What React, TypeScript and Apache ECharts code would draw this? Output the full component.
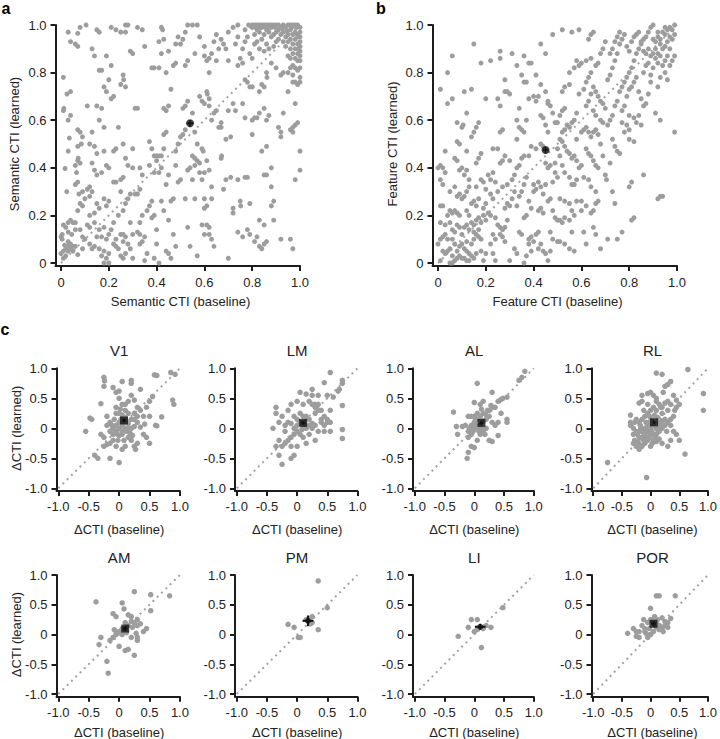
import React, { useEffect, useRef } from "react";
import * as echarts from "echarts";

// ---------- tick labels ----------
const unitTicks = [0, 0.2, 0.4, 0.6, 0.8, 1.0];
const deltaTicks = [-1, -0.5, 0, 0.5, 1];

// ---------- panel a : Semantic CTI (baseline vs learned) ----------
const semanticPoints: number[][] = [
  [0.01,0.78],[0.01,0.64],[0.012,0.65],[0.025,0.71],[0.04,0.72],[0.03,0.6],[0.04,0.62],[0.03,0.47],[0.035,0.525],[0.017,0.397],
  [0.024,0.3],[0.06,0.41],[0.07,0.43],[0.072,0.44],[0.065,0.38],[0.08,0.42],[0.06,0.33],[0.07,0.34],[0.075,0.29],[0.09,0.3],
  [0.08,0.25],[0.09,0.24],[0.07,0.22],[0.1,0.27],[0.07,0.56],[0.08,0.55],[0.09,0.53],[0.085,0.5],[0.07,0.49],
  [0.0,0.11],[0.005,0.1],[0.0,0.04],[0.01,0.05],[0.02,0.06],[0.03,0.07],[0.04,0.06],[0.03,0.05],[0.04,0.08],[0.05,0.07],
  [0.06,0.07],[0.05,0.05],[0.02,0.03],[0.01,0.02],[0.03,0.09],[0.02,0.15],[0.03,0.17],[0.01,0.16],[0.04,0.18],[0.05,0.17],
  [0.06,0.17],[0.03,0.13],[0.045,0.12],[0.005,0.12],[0.06,0.14],[0.08,0.14],[0.09,0.11],[0.07,0.035],[0.1,0.1],[0.09,0.06],
  [0.015,0.075],[0.03,0.97],[0.08,0.99],[0.105,1.0],[0.07,0.965],[0.04,0.93],[0.06,0.92],[0.07,0.91],
  [0.11,0.66],[0.13,0.9],[0.14,0.87],[0.15,0.66],[0.16,0.6],[0.13,0.55],[0.12,0.5],[0.14,0.49],[0.15,0.46],[0.13,0.42],
  [0.12,0.32],[0.13,0.3],[0.11,0.31],[0.12,0.28],[0.14,0.39],[0.15,0.37],[0.17,0.38],[0.15,0.25],[0.16,0.23],[0.14,0.21],
  [0.12,0.15],[0.14,0.17],[0.11,0.16],[0.16,0.14],[0.12,0.08],[0.13,0.06],[0.15,0.11],[0.17,0.11],[0.16,0.06],[0.18,0.05],
  [0.14,0.07],[0.17,0.03],[0.19,0.02],[0.2,0.04],[0.18,0.0],[0.2,0.0],[0.19,0.1],[0.2,0.12],[0.18,0.15],[0.19,0.24],
  [0.18,0.27],[0.2,0.26],[0.18,0.47],[0.19,0.41],[0.2,0.4],[0.18,0.57],[0.17,0.65],[0.18,0.74],[0.17,0.81],[0.19,0.72],
  [0.2,0.77],[0.19,0.87],[0.16,0.81],[0.15,0.98],[0.16,0.97],[0.12,0.2],
  [0.21,0.69],[0.21,0.83],[0.22,0.7],[0.22,0.47],[0.23,0.48],[0.24,0.57],[0.22,0.34],[0.23,0.34],[0.25,0.3],[0.26,0.36],
  [0.25,0.35],[0.26,0.22],[0.24,0.2],[0.22,0.17],[0.21,0.14],[0.23,0.1],[0.22,0.08],[0.24,0.06],[0.23,0.07],[0.25,0.12],
  [0.26,0.12],[0.27,0.11],[0.26,0.09],[0.28,0.08],[0.25,0.03],[0.26,0.02],[0.27,0.04],[0.28,0.27],[0.27,0.25],[0.29,0.29],
  [0.26,0.5],[0.27,0.44],[0.28,0.41],[0.3,0.4],[0.25,0.75],[0.27,0.74],[0.26,0.79],[0.262,0.77],[0.21,0.99],[0.23,0.98],
  [0.25,0.97],[0.27,0.97],[0.27,1.0],[0.28,1.0],[0.29,0.89],[0.3,0.88],[0.3,0.48],[0.29,0.17],[0.3,0.12],[0.29,0.06],[0.3,0.02],
  [0.31,0.65],[0.32,0.65],[0.32,0.99],[0.34,0.98],[0.35,0.91],[0.33,0.4],[0.34,0.37],[0.32,0.29],[0.31,0.29],[0.33,0.31],
  [0.34,0.2],[0.33,0.17],[0.32,0.13],[0.33,0.12],[0.35,0.11],[0.34,0.09],[0.33,0.08],[0.36,0.04],[0.35,0.01],[0.37,0.24],
  [0.36,0.22],[0.38,0.26],[0.38,0.19],[0.39,0.2],[0.37,0.41],[0.38,0.48],[0.39,0.45],[0.4,0.43],[0.39,0.38],[0.38,0.82],
  [0.39,0.82],[0.37,0.51],[0.4,0.14],[0.4,0.08],[0.39,0.02],[0.41,0.0],[0.4,0.45],
  [0.41,0.45],[0.42,0.45],[0.41,0.38],[0.42,0.4],[0.43,0.48],[0.44,0.33],[0.45,0.37],[0.43,0.65],[0.44,0.64],[0.45,0.66],
  [0.43,0.54],[0.44,0.55],[0.46,0.73],[0.41,0.82],[0.42,0.88],[0.43,0.94],[0.44,0.8],[0.45,0.89],[0.47,0.83],[0.48,0.84],
  [0.46,0.26],[0.45,0.18],[0.47,0.27],[0.47,0.12],[0.44,0.05],[0.45,0.04],[0.46,0.02],[0.48,0.07],[0.42,0.26],[0.43,0.22],
  [0.48,0.47],[0.49,0.5],[0.5,0.53],[0.49,0.34],[0.5,0.35],[0.48,0.41],[0.42,0.99],[0.425,0.98],[0.41,0.93],[0.48,0.92],
  [0.5,0.92],[0.49,0.95],
  [0.51,0.54],[0.52,0.56],[0.53,0.39],[0.54,0.4],[0.55,0.45],[0.56,0.44],[0.55,0.35],[0.56,0.41],[0.57,0.43],[0.58,0.42],
  [0.58,0.38],[0.59,0.35],[0.57,0.5],[0.56,0.55],[0.59,0.48],[0.595,0.47],[0.6,0.38],[0.52,0.27],[0.56,0.27],[0.53,0.15],
  [0.54,0.07],[0.57,0.03],[0.59,0.16],[0.6,0.12],[0.6,0.27],[0.6,0.23],[0.51,0.65],[0.52,0.66],[0.53,0.68],[0.55,0.63],
  [0.58,0.7],[0.59,0.68],[0.6,0.67],[0.52,0.83],[0.53,0.85],[0.56,0.88],[0.51,0.94],[0.52,0.97],[0.53,1.0],[0.55,1.0],
  [0.57,1.0],[0.58,0.95],[0.6,0.91],[0.6,0.87],
  [0.61,0.72],[0.612,0.71],[0.62,0.69],[0.62,0.66],[0.63,0.6],[0.64,0.63],[0.65,0.64],[0.67,0.59],[0.66,0.57],[0.67,0.57],
  [0.61,0.43],[0.62,0.39],[0.63,0.32],[0.63,0.27],[0.61,0.24],[0.61,0.16],[0.62,0.15],[0.62,0.12],[0.63,0.1],[0.64,0.07],
  [0.67,0.44],[0.672,0.45],[0.68,0.31],[0.69,0.35],[0.62,0.8],[0.61,0.85],[0.62,0.86],[0.63,0.88],[0.65,0.85],[0.66,0.9],
  [0.67,0.94],[0.68,0.92],[0.69,0.9],[0.7,0.97],[0.64,0.93],[0.65,0.96],[0.7,0.85],[0.7,0.64],[0.69,0.52],[0.71,0.53],
  [0.71,0.36],[0.72,0.23],[0.72,0.21],[0.7,0.02],
  [0.72,0.67],[0.73,0.64],[0.74,0.83],[0.75,0.86],[0.76,0.84],[0.77,0.77],[0.78,0.76],[0.79,0.74],[0.8,0.74],[0.76,0.67],
  [0.77,0.61],[0.74,0.13],[0.75,0.26],[0.752,0.24],[0.76,0.11],[0.77,0.36],[0.78,0.36],[0.74,0.35],[0.78,0.14],[0.79,0.25],
  [0.79,0.12],[0.8,0.54],[0.8,0.6],[0.73,0.92],[0.74,0.95],[0.76,0.9],[0.77,0.93],[0.78,0.95],[0.79,0.88],[0.8,0.86],
  [0.72,0.99],[0.74,1.0],[0.77,0.98],
  [0.8,1.0],[0.81,1.0],[0.82,1.0],[0.83,1.0],[0.84,1.0],[0.85,1.0],[0.86,1.0],[0.87,1.0],[0.88,1.0],[0.89,1.0],
  [0.9,1.0],[0.8,0.99],[0.82,0.98],[0.84,0.99],[0.86,0.98],[0.88,0.99],[0.81,0.96],[0.83,0.97],[0.85,0.96],[0.87,0.97],
  [0.89,0.96],[0.82,0.93],[0.84,0.94],[0.86,0.92],[0.88,0.95],[0.9,0.93],[0.83,0.9],[0.85,0.89],[0.87,0.9],[0.89,0.91],
  [0.81,0.92],[0.785,1.0],[0.795,0.995],[0.815,0.99],[0.835,0.99],[0.855,0.99],[0.875,0.99],[0.895,0.99],
  [0.81,0.61],[0.82,0.61],[0.83,0.72],[0.84,0.75],[0.85,0.74],[0.86,0.8],[0.862,0.78],[0.83,0.63],[0.85,0.65],[0.86,0.6],
  [0.87,0.62],[0.84,0.47],[0.86,0.49],[0.85,0.37],[0.86,0.37],[0.88,0.4],[0.88,0.32],[0.89,0.26],[0.88,0.24],[0.83,0.18],
  [0.85,0.16],[0.82,0.11],[0.83,0.07],[0.84,0.06],[0.85,0.08],[0.81,0.09],[0.86,0.09],[0.89,0.18],[0.88,0.84],[0.9,0.82],
  [0.92,0.79],[0.93,0.8],[0.91,0.57],[0.92,0.55],[0.93,0.63],[0.92,0.53],[0.95,0.72],[0.96,0.56],[0.97,0.57],[0.97,0.55],
  [0.98,0.58],[0.99,0.59],[0.98,0.67],[0.92,0.1],[0.96,0.1],[0.97,0.06],[0.98,0.35],[1.0,0.39],[1.0,0.47],[0.97,0.76],
  [0.98,0.76],[0.99,0.75],[1.0,0.76],[0.96,0.82],[0.97,0.83],[0.98,0.82],[0.99,0.81],[1.0,0.78],[0.97,0.79],[0.95,0.8],
  [1.0,0.85],[1.0,0.87],[1.0,0.89],[1.0,0.91],[1.0,0.93],[1.0,0.95],[1.0,0.97],[1.0,0.99],[0.99,0.88],[0.99,0.92],
  [0.99,0.95],[0.98,0.9],[0.98,0.94],[0.98,0.97],[0.97,0.88],[0.97,0.92],[0.97,0.96],[0.96,0.9],[0.96,0.94],[0.96,0.98],
  [0.95,0.93],[0.95,0.96],[0.94,0.91],[0.94,0.95],[0.93,0.97],[0.93,0.93],[0.92,0.96],[0.91,0.98],[0.92,0.99],[0.94,0.99],
  [0.95,1.0],[0.97,1.0],[0.99,1.0],[0.9,0.97],[0.91,0.94],[0.95,0.87],[0.99,0.85],[0.98,0.86],[0.96,0.86],[1.0,0.82],
  [0.99,0.96],[0.98,1.0],[0.96,1.0],[0.93,1.0],[0.91,1.0],[0.985,0.99],[0.965,0.99],[0.945,0.975],[0.925,0.985],[0.995,0.9]
];
const semanticMean = [0.54, 0.587, 0.014, 0.014];

// ---------- panel b : Feature CTI (baseline vs learned) ----------
const featurePoints: number[][] = [
  [0.0,0.4],[0.01,0.41],[0.02,0.4],[0.01,0.35],[0.02,0.33],[0.03,0.38],[0.01,0.24],[0.02,0.24],[0.01,0.17],[0.03,0.16],
  [0.02,0.11],[0.01,0.1],[0.0,0.08],[0.03,0.12],[0.04,0.1],[0.02,0.05],[0.03,0.04],[0.04,0.05],[0.05,0.06],[0.01,0.01],
  [0.05,0.0],[0.06,0.0],[0.07,0.01],[0.08,0.02],[0.06,0.03],[0.04,0.2],[0.05,0.22],[0.06,0.21],[0.07,0.22],[0.08,0.21],
  [0.09,0.2],[0.05,0.17],[0.06,0.14],[0.07,0.13],[0.08,0.16],[0.09,0.15],[0.1,0.12],[0.06,0.1],[0.07,0.08],[0.09,0.07],
  [0.1,0.08],[0.08,0.05],[0.09,0.03],[0.1,0.02],[0.05,0.3],[0.07,0.32],[0.08,0.28],[0.09,0.29],[0.1,0.27],[0.07,0.44],
  [0.08,0.43],[0.09,0.39],[0.1,0.4],[0.08,0.51],[0.09,0.5],[0.08,0.59],[0.1,0.57],[0.105,0.58],[0.04,0.67],[0.06,0.69],
  [0.01,0.73],[0.04,0.8],[0.06,0.87],[0.03,0.47],
  [0.11,0.06],[0.12,0.05],[0.13,0.04],[0.11,0.02],[0.12,0.01],[0.14,0.03],[0.13,0.01],[0.15,0.02],[0.16,0.04],[0.12,0.09],
  [0.14,0.08],[0.15,0.1],[0.16,0.12],[0.17,0.11],[0.18,0.1],[0.11,0.15],[0.12,0.16],[0.13,0.14],[0.14,0.17],[0.15,0.16],
  [0.16,0.18],[0.17,0.19],[0.18,0.17],[0.19,0.2],[0.15,0.13],[0.17,0.14],[0.13,0.2],[0.12,0.22],[0.14,0.25],[0.15,0.26],
  [0.16,0.24],[0.17,0.27],[0.19,0.23],[0.2,0.25],[0.11,0.28],[0.12,0.3],[0.13,0.32],[0.16,0.32],[0.18,0.35],[0.19,0.34],
  [0.2,0.31],[0.11,0.37],[0.12,0.39],[0.13,0.35],[0.16,0.42],[0.17,0.44],[0.18,0.46],[0.12,0.47],[0.14,0.53],[0.15,0.55],
  [0.16,0.57],[0.17,0.59],[0.12,0.63],[0.11,0.72],[0.14,0.73],[0.15,0.92],[0.18,0.84],[0.2,0.69],[0.19,0.01],[0.18,0.05],
  [0.2,0.04],[0.2,0.18],
  [0.21,0.37],[0.22,0.35],[0.23,0.38],[0.24,0.34],[0.25,0.3],[0.22,0.29],[0.23,0.27],[0.21,0.21],[0.22,0.2],[0.24,0.19],
  [0.25,0.16],[0.26,0.15],[0.27,0.14],[0.28,0.15],[0.26,0.12],[0.27,0.11],[0.23,0.12],[0.24,0.1],[0.22,0.08],[0.23,0.04],
  [0.24,0.01],[0.26,0.42],[0.27,0.43],[0.28,0.45],[0.23,0.48],[0.25,0.48],[0.26,0.55],[0.27,0.56],[0.26,0.66],[0.25,0.69],
  [0.22,0.85],[0.26,0.86],[0.26,0.89],[0.28,0.77],[0.28,0.72],[0.29,0.72],[0.3,0.71],[0.29,0.25],[0.28,0.23],[0.29,0.18],
  [0.3,0.24],[0.27,0.32],[0.29,0.33],[0.3,0.43],[0.28,0.09],
  [0.31,0.35],[0.32,0.37],[0.33,0.4],[0.34,0.41],[0.31,0.27],[0.32,0.3],[0.33,0.24],[0.34,0.28],[0.35,0.3],[0.36,0.33],
  [0.37,0.36],[0.34,0.13],[0.35,0.12],[0.32,0.06],[0.33,0.04],[0.3,0.01],[0.36,0.0],[0.37,0.03],[0.38,0.1],[0.39,0.11],
  [0.38,0.08],[0.39,0.05],[0.4,0.09],[0.37,0.2],[0.36,0.19],[0.38,0.26],[0.39,0.23],[0.35,0.44],[0.36,0.45],[0.38,0.45],
  [0.39,0.49],[0.33,0.52],[0.33,0.6],[0.34,0.57],[0.35,0.56],[0.36,0.55],[0.34,0.65],[0.37,0.6],[0.35,0.79],[0.36,0.76],
  [0.37,0.76],[0.38,0.84],[0.39,0.84],[0.36,0.87],[0.31,0.88],[0.33,0.83],[0.38,0.69],[0.4,0.7],[0.4,0.33],[0.4,0.3],
  [0.41,0.31],[0.42,0.34],[0.43,0.32],[0.44,0.29],[0.45,0.33],[0.42,0.22],[0.43,0.23],[0.44,0.21],[0.41,0.12],[0.42,0.13],
  [0.43,0.08],[0.42,0.06],[0.44,0.05],[0.45,0.04],[0.46,0.01],[0.47,0.05],[0.41,0.48],[0.43,0.5],[0.44,0.49],[0.45,0.42],
  [0.46,0.4],[0.47,0.41],[0.48,0.34],[0.49,0.38],[0.5,0.36],[0.46,0.26],[0.47,0.27],[0.48,0.22],[0.49,0.19],[0.5,0.18],
  [0.41,0.68],[0.42,0.7],[0.43,0.62],[0.44,0.61],[0.45,0.58],[0.46,0.55],[0.41,0.79],[0.43,0.75],[0.43,0.92],[0.45,0.88],
  [0.45,0.72],[0.46,0.68],[0.47,0.66],[0.48,0.63],[0.49,0.59],[0.5,0.59],[0.49,0.42],[0.5,0.48],[0.47,0.13],[0.48,0.1],
  [0.5,0.09],[0.48,0.96],[0.46,0.67],
  [0.51,0.62],[0.52,0.64],[0.53,0.65],[0.54,0.58],[0.55,0.57],[0.56,0.59],[0.57,0.6],[0.58,0.63],[0.51,0.52],[0.52,0.51],
  [0.53,0.49],[0.54,0.47],[0.55,0.46],[0.56,0.44],[0.57,0.45],[0.58,0.43],[0.52,0.55],[0.53,0.56],[0.51,0.45],[0.52,0.41],
  [0.53,0.38],[0.55,0.36],[0.56,0.33],[0.57,0.33],[0.58,0.35],[0.59,0.4],[0.6,0.41],[0.51,0.27],[0.53,0.26],[0.55,0.25],
  [0.56,0.22],[0.57,0.2],[0.58,0.26],[0.51,0.18],[0.52,0.17],[0.53,0.19],[0.55,0.18],[0.56,0.13],[0.51,0.09],[0.53,0.08],
  [0.55,0.06],[0.57,0.05],[0.52,0.72],[0.53,0.74],[0.55,0.75],[0.55,0.8],[0.57,0.82],[0.58,0.85],[0.59,0.83],[0.6,0.84],
  [0.52,0.98],[0.56,0.97],[0.59,0.98],[0.58,0.52],[0.6,0.55],[0.6,0.26],[0.6,0.22],[0.59,0.71],
  [0.61,0.56],[0.62,0.57],[0.63,0.55],[0.64,0.53],[0.65,0.55],[0.66,0.56],[0.67,0.54],[0.62,0.48],[0.63,0.46],[0.64,0.45],
  [0.65,0.43],[0.66,0.41],[0.67,0.4],[0.61,0.36],[0.63,0.35],[0.64,0.32],[0.66,0.3],[0.62,0.24],[0.64,0.21],[0.65,0.22],
  [0.66,0.25],[0.67,0.26],[0.61,0.13],[0.62,0.08],[0.65,0.15],[0.66,0.12],[0.61,0.73],[0.62,0.76],[0.63,0.78],[0.64,0.8],
  [0.65,0.74],[0.66,0.72],[0.67,0.7],[0.68,0.68],[0.69,0.67],[0.7,0.65],[0.62,0.66],[0.63,0.68],[0.64,0.71],[0.65,0.64],
  [0.66,0.62],[0.68,0.6],[0.62,0.85],[0.64,0.86],[0.66,0.83],[0.67,0.84],[0.68,0.88],[0.69,0.9],[0.7,0.93],[0.63,0.94],
  [0.64,0.96],[0.65,0.97],[0.68,0.5],[0.69,0.45],[0.7,0.37],[0.68,0.06],[0.705,0.35],[0.69,0.59],
  [0.71,0.58],[0.72,0.6],[0.73,0.62],[0.74,0.66],[0.75,0.68],[0.76,0.72],[0.77,0.74],[0.78,0.76],[0.79,0.78],[0.8,0.8],
  [0.71,0.77],[0.72,0.79],[0.73,0.82],[0.74,0.85],[0.75,0.88],[0.76,0.92],[0.77,0.94],[0.78,0.96],[0.79,0.91],[0.8,0.89],
  [0.72,0.88],[0.73,0.9],[0.74,0.93],[0.75,0.95],[0.76,0.97],[0.73,0.52],[0.74,0.49],[0.75,0.47],[0.76,0.46],[0.77,0.59],
  [0.78,0.55],[0.79,0.58],[0.8,0.56],[0.72,0.42],[0.73,0.3],[0.74,0.25],[0.75,0.1],[0.77,0.13],[0.71,0.1],[0.79,0.7],
  [0.8,0.73],[0.78,0.66],[0.77,0.64],[0.8,0.52],[0.8,0.62],
  [0.81,0.82],[0.82,0.85],[0.83,0.88],[0.84,0.9],[0.85,0.92],[0.86,0.94],[0.87,0.95],[0.88,0.97],[0.89,0.99],[0.9,1.0],
  [0.81,0.93],[0.82,0.95],[0.83,0.96],[0.84,0.97],[0.85,0.93],[0.86,0.89],[0.87,0.88],[0.88,0.9],[0.89,0.87],[0.9,0.88],
  [0.81,0.74],[0.82,0.76],[0.83,0.78],[0.84,0.72],[0.85,0.69],[0.86,0.66],[0.87,0.67],[0.88,0.71],[0.89,0.79],[0.9,0.82],
  [0.82,0.61],[0.83,0.59],[0.84,0.62],[0.85,0.58],[0.82,0.51],[0.81,0.34],[0.8,0.32],[0.82,0.19],[0.81,0.18],[0.86,0.37],
  [0.88,0.84],[0.86,0.8],[0.87,0.83],[0.89,0.76],
  [0.91,0.93],[0.92,0.95],[0.93,0.94],[0.94,0.97],[0.95,0.96],[0.96,0.98],[0.97,0.99],[0.98,0.98],[0.99,1.0],[0.91,0.9],
  [0.92,0.88],[0.93,0.92],[0.94,0.9],[0.95,0.91],[0.96,0.93],[0.97,0.95],[0.98,0.94],[0.99,0.96],[0.91,0.86],[0.92,0.84],
  [0.93,0.87],[0.94,0.83],[0.95,0.85],[0.96,0.87],[0.97,0.9],[0.99,0.87],[0.92,0.74],[0.93,0.78],[0.95,0.8],[0.96,0.77],
  [0.97,0.83],[0.98,0.85],[0.91,0.63],[0.93,0.6],[0.99,0.55],[0.93,0.28],[0.94,0.28],[0.92,0.27],[0.92,0.97],[0.9,0.94],
  [0.95,0.99]
];
const featureMean = [0.45, 0.475, 0.012, 0.012];

// ---------- panel c : ΔCTI per visual area ----------
const areaNames = ["V1", "LM", "AL", "RL", "AM", "PM", "LI", "POR"];

const v1Points: number[][] = [
  [0.9,0.4],[0.88,0.47],[0.85,0.93],[0.92,0.9],[0.58,0.89],[0.62,0.88],[0.55,0.53],[0.5,0.45],[0.7,0.19],[0.6,0.05],
  [0.62,0.04],[0.5,0.2],[0.4,0.2],[0.42,0.07],[0.3,0.1],[0.35,0.02],[0.4,-0.1],[0.45,-0.15],[0.5,-0.25],[0.3,-0.25],
  [0.25,-0.3],[0.27,-0.35],[0.2,-0.2],[0.15,-0.15],[0.05,-0.35],[0.1,-0.3],[0.0,-0.57],[-0.05,-0.3],[-0.1,-0.2],[-0.15,-0.25],
  [-0.2,-0.27],[-0.25,-0.3],[-0.25,-0.15],[-0.3,-0.1],[-0.4,-0.45],[-0.35,-0.5],[-0.15,-0.5],[-0.55,-0.05],[-0.48,0.17],[-0.45,0.15],
  [-0.3,0.41],[-0.25,0.85],[-0.24,0.79],[-0.25,0.7],[-0.1,0.68],[-0.05,0.6],[0.0,0.62],[0.0,0.5],[0.05,0.78],[0.2,0.8],
  [0.2,0.75],[0.2,0.55],[0.25,0.47],[0.35,0.65],[0.3,0.35],[0.45,0.35],[0.15,0.45],[0.1,0.4],[0.05,0.4],[-0.05,0.35],
  [-0.05,0.25],[0.0,0.25],[0.05,0.22],[0.1,0.3],[0.15,0.25],[0.2,0.15],[0.25,0.15],[0.3,0.2],[-0.15,0.1],[-0.2,0.05],
  [-0.2,0.2],[-0.1,0.0],[-0.05,0.05],[0.0,0.0],[0.0,0.1],[0.05,0.05],[0.1,0.0],[0.12,-0.05],[0.15,0.08],[0.05,-0.1],
  [0.0,-0.12],[-0.05,-0.05],[-0.1,-0.1],[0.15,0.0],[0.2,0.0],[0.25,0.03],[0.03,0.15],[-0.08,0.15],[-0.12,0.05],[0.08,-0.2],
  [-0.02,-0.2],[0.18,-0.08],[0.22,-0.12],[0.1,0.18],[0.02,0.32],[0.05,-0.05],[0.08,0.1],[-0.03,-0.1],[0.12,0.12],[-0.15,-0.05],
  [0.25,0.25],[0.35,0.3]
];
const lmPoints: number[][] = [
  [0.55,0.93],[0.75,0.8],[0.75,0.75],[0.7,0.65],[0.68,0.62],[0.6,0.52],[0.45,0.76],[0.5,0.55],[0.75,0.38],[0.75,-0.02],
  [0.75,-0.17],[0.55,0.1],[0.5,0.1],[0.5,0.15],[0.45,0.2],[0.4,0.3],[0.35,0.4],[0.35,0.3],[0.3,0.25],[0.3,0.4],
  [0.25,0.65],[0.25,0.55],[0.35,0.55],[0.2,0.45],[0.25,0.4],[0.15,0.57],[0.05,0.6],[0.1,0.4],[0.0,0.45],[-0.1,0.4],
  [-0.15,0.3],[-0.35,0.35],[-0.35,0.25],[-0.25,0.2],[-0.3,0.1],[-0.4,0.0],[-0.2,0.05],[-0.15,0.1],[-0.1,0.08],[-0.05,0.0],
  [0.0,0.05],[0.05,0.1],[0.1,0.05],[0.15,0.0],[0.2,0.05],[0.25,0.0],[0.3,0.05],[0.35,-0.05],[0.45,-0.05],[0.55,-0.05],
  [0.2,-0.1],[0.1,-0.15],[0.05,-0.1],[-0.05,-0.1],[-0.1,-0.15],[-0.15,-0.2],[-0.3,-0.2],[-0.35,-0.3],[-0.25,-0.3],[-0.2,-0.25],
  [-0.3,-0.45],[-0.25,-0.6],[-0.1,-0.5],[-0.05,-0.45],[0.0,-0.3],[0.15,-0.25],[0.3,-0.2],[0.1,0.2],[0.15,0.2],[0.05,0.25],
  [-0.05,0.2],[0.0,-0.05],[0.08,-0.02],[0.12,0.1],[0.2,0.15],[0.4,0.15],[0.45,0.05],[-0.1,-0.3],[0.0,0.15],[-0.2,-0.05],
  [0.3,0.35],[0.55,0.3],[0.4,0.1],[0.25,0.08]
];
const alPoints: number[][] = [
  [0.85,0.95],[0.8,0.85],[0.75,0.8],[0.05,0.75],[0.3,0.6],[0.55,0.52],[0.48,0.5],[0.45,0.48],[0.4,0.45],[0.35,0.35],
  [0.3,0.35],[0.25,0.3],[0.15,0.45],[0.1,0.4],[0.0,0.43],[0.05,0.25],[0.0,0.2],[-0.05,0.2],[-0.1,0.2],[-0.35,0.27],
  [-0.3,0.03],[-0.28,-0.1],[-0.2,0.03],[-0.15,0.05],[-0.1,-0.05],[-0.05,-0.1],[-0.1,-0.15],[-0.05,-0.3],[0.0,-0.32],[-0.1,-0.4],
  [-0.12,-0.5],[0.05,-0.2],[0.1,-0.1],[0.15,-0.05],[0.2,0.0],[0.25,-0.2],[0.3,-0.22],[0.1,0.05],[0.05,0.0],[0.0,0.0],
  [-0.05,0.05],[0.0,0.1],[0.05,0.15],[0.15,0.12],[0.2,0.15],[0.25,0.2],[0.2,0.22],[0.3,0.1],[0.35,0.05],[0.4,0.1],
  [0.45,0.25],[0.55,0.15],[0.55,0.1],[0.4,-0.12],[0.15,0.25],[0.1,0.2],[-0.02,-0.05],[0.08,-0.05],[0.02,0.05],[-0.08,0.0],
  [0.12,0.0],[0.18,-0.1],[0.22,0.3],[0.28,0.38],[0.12,0.32],[0.02,0.15]
];
const rlPoints: number[][] = [
  [0.65,0.98],[0.92,0.58],[0.92,0.3],[0.6,-0.43],[-0.75,-0.57],[-0.07,-0.82],[0.2,0.9],[0.1,0.92],[0.35,0.78],[0.3,0.73],
  [0.25,0.7],[0.4,0.55],[0.45,0.47],[0.5,0.4],[0.35,0.4],[0.3,0.45],[0.3,0.3],[0.2,0.35],[0.15,0.4],[0.05,0.35],
  [0.0,0.6],[-0.05,0.58],[0.05,0.55],[-0.15,0.55],[-0.15,0.45],[-0.2,0.42],[-0.35,0.22],[-0.35,0.1],[-0.35,0.05],[-0.3,0.0],
  [-0.3,-0.1],[-0.28,-0.2],[-0.25,-0.3],[-0.2,-0.35],[-0.15,-0.3],[-0.1,-0.25],[-0.05,-0.2],[0.0,-0.3],[0.05,-0.2],[0.1,-0.22],
  [0.2,-0.25],[0.3,-0.3],[0.35,-0.2],[0.4,-0.05],[0.45,-0.1],[0.5,-0.2],[0.35,0.05],[0.3,0.1],[0.25,0.15],[0.2,0.12],
  [0.15,0.05],[0.1,0.0],[0.05,0.05],[0.0,0.0],[-0.05,0.05],[-0.1,0.0],[-0.15,-0.05],[-0.2,-0.05],[-0.25,-0.05],[-0.2,0.1],
  [-0.15,0.15],[-0.1,0.2],[-0.05,0.25],[0.0,0.3],[0.1,0.3],[0.2,0.25],[-0.2,-0.15],[-0.15,-0.15],[-0.1,-0.1],[-0.05,-0.05],
  [0.0,-0.1],[0.05,-0.1],[0.1,-0.1],[0.15,-0.05],[0.2,0.0],[0.25,0.05],[-0.22,-0.22],[-0.12,-0.2],[-0.02,-0.15],[0.08,-0.15],
  [0.12,0.18],[0.02,0.15],[-0.08,0.1],[-0.18,0.05],[-0.28,0.1],[0.18,0.35],[0.1,0.45],[-0.05,0.4],[0.25,0.42],[0.45,0.35],
  [0.4,0.2],[0.35,0.15],[0.28,-0.05],[0.15,-0.18],[-0.3,-0.25],[-0.18,-0.28],[0.03,-0.25],[0.22,0.6],[0.1,0.5],[-0.02,0.2],
  [0.07,0.22],[-0.12,0.3],[0.15,0.1],[-0.25,0.15],[0.42,0.3],[-0.08,-0.02],[-0.12,-0.08],[-0.02,0.02],[0.02,-0.05],[-0.17,0.0],
  [-0.23,-0.1],[-0.07,-0.15],[0.12,-0.02],[0.18,0.08],[-0.03,0.1]
];
const amPoints: number[][] = [
  [0.83,0.65],[0.52,0.67],[0.52,0.4],[0.25,0.72],[-0.38,0.55],[0.05,0.53],[0.08,0.43],[-0.1,0.35],[-0.05,0.3],[0.15,0.33],
  [0.2,0.3],[0.2,0.22],[0.25,0.2],[0.3,0.25],[0.35,0.18],[0.3,0.15],[0.45,0.1],[0.4,0.05],[0.3,-0.05],[0.3,-0.1],
  [0.2,-0.05],[0.15,-0.25],[0.1,-0.27],[0.25,-0.35],[0.0,-0.2],[-0.1,-0.05],[-0.15,-0.1],[-0.3,-0.05],[-0.33,-0.17],[-0.2,-0.45],
  [-0.18,-0.65],[-0.05,0.0],[0.0,0.05],[0.05,0.1],[0.1,0.2],[0.15,0.15],[-0.05,0.05],[0.05,0.0],[0.12,0.03],[0.22,0.12],
  [0.28,0.02],[-0.08,0.08]
];
const pmPoints: number[][] = [
  [0.35,0.9],[0.5,0.45],[0.35,0.08],[0.25,0.3],[0.22,0.18],[0.15,0.25],[0.2,0.27],[0.02,-0.05],[0.05,-0.05],[-0.15,0.17],
  [-0.05,0.12],[0.25,0.2]
];
const liPoints: number[][] = [
  [0.48,0.45],[0.28,0.12],[0.2,0.15],[0.12,-0.22],[0.05,0.25],[-0.05,0.25],[-0.1,0.12],[-0.27,-0.03],[0.05,0.08],[0.15,0.1],
  [0.0,0.05]
];
const porPoints: number[][] = [
  [0.43,0.65],[0.15,0.65],[0.1,0.65],[0.0,0.44],[-0.4,0.02],[-0.3,0.1],[-0.25,0.05],[-0.2,-0.05],[-0.15,0.15],[-0.1,0.1],
  [-0.05,0.2],[0.0,0.25],[0.05,0.22],[0.1,0.2],[0.15,0.15],[0.2,0.28],[0.25,0.22],[0.35,0.27],[0.3,0.2],[0.2,0.1],
  [0.15,0.08],[0.1,0.12],[0.05,0.05],[0.0,0.0],[-0.05,-0.05],[-0.1,0.05],[-0.2,0.05],[-0.25,-0.03],[0.25,0.15],[0.12,0.25],
  [0.08,0.15],[-0.02,0.1],[0.18,0.12],[0.22,0.05],[-0.12,0.25],[0.3,0.12],[0.07,0.3],[-0.08,0.02]
];
const areaPoints = [v1Points, lmPoints, alPoints, rlPoints, amPoints, pmPoints, liPoints, porPoints];
// mean [x, y, x error, y error]
const areaMeans: number[][] = [
  [0.08, 0.13, 0.03, 0.03], [0.1, 0.09, 0.03, 0.03], [0.12, 0.09, 0.03, 0.03], [0.06, 0.1, 0.025, 0.025],
  [0.1, 0.1, 0.04, 0.04], [0.18, 0.23, 0.09, 0.09], [0.1, 0.13, 0.09, 0.05], [0.05, 0.18, 0.04, 0.04]
];
const areaMeanSymbol = ["rect", "rect", "rect", "rect", "rect", "circle", "circle", "rect"];

// ---------- styling ----------
const FONT = "'Liberation Sans', Arial, Helvetica, sans-serif";
const AXIS = "#1c1c1c";
const DOT = "#9d9d9d";
const TEXT = "#222";

const fmtUnit = (v: number) => (v === 0 ? "0" : v.toFixed(1));

function makeAxis(kind: "x" | "y", idx: number, min: number, ticks: number[], margin: number) {
  return {
    type: "value",
    gridIndex: idx,
    min,
    max: 1,
    position: kind === "x" ? "bottom" : "left",
    axisLine: { show: true, onZero: false, lineStyle: { color: AXIS, width: 2 } },
    axisTick: { show: true, length: 5, customValues: ticks, lineStyle: { color: AXIS, width: 2 } },
    axisLabel: {
      show: true,
      customValues: ticks,
      formatter: fmtUnit,
      fontSize: 13,
      fontFamily: FONT,
      color: TEXT,
      margin,
    },
    splitLine: { show: false },
  };
}

function errorBarSeries(idx: number, mean: number[], width: number) {
  return {
    type: "custom",
    xAxisIndex: idx,
    yAxisIndex: idx,
    data: [mean],
    encode: { x: 0, y: 1 },
    silent: true,
    z: 6,
    renderItem: (_p: any, api: any) => {
      const x = api.value(0), y = api.value(1), ex = api.value(2), ey = api.value(3);
      const l = api.coord([x - ex, y]);
      const r = api.coord([x + ex, y]);
      const t = api.coord([x, y + ey]);
      const b = api.coord([x, y - ey]);
      return {
        type: "group",
        children: [
          { type: "line", shape: { x1: l[0], y1: l[1], x2: r[0], y2: r[1] }, style: { stroke: "#111", lineWidth: width } },
          { type: "line", shape: { x1: b[0], y1: b[1], x2: t[0], y2: t[1] }, style: { stroke: "#111", lineWidth: width } },
        ],
      };
    },
  };
}

export default function App() {
  const ref = useRef<HTMLDivElement>(null);

  useEffect(() => {
    if (!ref.current) return;
    const chart = echarts.init(ref.current, undefined, { renderer: "svg" });

    const grids: any[] = [];
    const xAxes: any[] = [];
    const yAxes: any[] = [];
    const series: any[] = [];
    const graphics: any[] = [];

    const addText = (text: string, x: number, y: number, size: number, bold = false, rotate = 0) => {
      graphics.push({
        type: "text",
        x,
        y,
        rotation: rotate,
        style: {
          text,
          fontSize: size,
          fontFamily: FONT,
          fontWeight: bold ? "bold" : "normal",
          fill: bold ? "#000" : TEXT,
          textAlign: "center",
          textVerticalAlign: "middle",
        },
      });
    };

    // panels a and b
    const big = [
      { left: 55.5, pts: semanticPoints, mean: semanticMean, xName: "Semantic CTI (baseline)", yName: "Semantic CTI (learned)", yNameX: 14 },
      { left: 432.5, pts: featurePoints, mean: featureMean, xName: "Feature CTI (baseline)", yName: "Feature CTI (learned)", yNameX: 392 },
    ];
    big.forEach((p, i) => {
      const idx = grids.length;
      grids.push({ left: p.left, top: 25, width: 244.5, height: 241 });
      xAxes.push(makeAxis("x", idx, -0.023, unitTicks, 10));
      yAxes.push(makeAxis("y", idx, -0.0126, unitTicks, 9));
      series.push({
        type: "line", xAxisIndex: idx, yAxisIndex: idx, data: [[0, 0], [1, 1]], symbol: "none", silent: true, z: 1,
        lineStyle: { color: "#a3a3a3", width: 2, type: [2, 4] },
      });
      series.push({
        type: "scatter", xAxisIndex: idx, yAxisIndex: idx, data: p.pts, symbolSize: 5, z: 2, silent: true,
        itemStyle: { color: DOT, opacity: 1 },
      });
      series.push(errorBarSeries(idx, p.mean, 1.5));
      series.push({
        type: "scatter", xAxisIndex: idx, yAxisIndex: idx, data: [[p.mean[0], p.mean[1]]], symbol: "circle", symbolSize: 8, z: 7, silent: true,
        itemStyle: { color: "#111" },
      });
      const cx = p.left + 5.5 + 239 / 2;
      addText(p.xName, cx, 301, 13);
      addText(p.yName, p.yNameX, 144, 13, false, Math.PI / 2);
    });
    addText("a", 6, 8, 16, true);
    addText("b", 381, 8, 16, true);
    addText("c", 5, 329, 16, true);

    // panel c small multiples
    const colLeft = [56.5, 235, 413, 591.5];
    const colUnit = [60.8, 60.3, 59.5, 59.2];
    const rowTop = [368.3, 575];
    const rowUnit = [60, 59.5];
    const rowTitleY = [350, 557];
    const rowXNameY = [529, 732];
    areaNames.forEach((name, k) => {
      const r = Math.floor(k / 4), c = k % 4;
      const idx = grids.length;
      const w = 2.03 * colUnit[c];
      const h = 2.045 * rowUnit[r];
      grids.push({ left: colLeft[c], top: rowTop[r], width: w, height: h });
      xAxes.push(makeAxis("x", idx, -1.03, deltaTicks, 9));
      yAxes.push(makeAxis("y", idx, -1.045, deltaTicks, 9));
      series.push({
        type: "line", xAxisIndex: idx, yAxisIndex: idx, data: [[-1, -1], [1, 1]], symbol: "none", silent: true, z: 1,
        lineStyle: { color: "#a3a3a3", width: 2, type: [2, 4] },
      });
      series.push({
        type: "scatter", xAxisIndex: idx, yAxisIndex: idx, data: areaPoints[k], symbolSize: 5.5, z: 2, silent: true,
        itemStyle: { color: DOT, opacity: 1 },
      });
      const m = areaMeans[k];
      series.push(errorBarSeries(idx, m, 2));
      series.push({
        type: "scatter", xAxisIndex: idx, yAxisIndex: idx, data: [[m[0], m[1]]], symbol: areaMeanSymbol[k],
        symbolSize: areaMeanSymbol[k] === "rect" ? 8 : 6, z: 7, silent: true, itemStyle: { color: "#111" },
      });
      const zeroX = colLeft[c] + 0.03 * colUnit[c] + colUnit[c];
      addText(name, zeroX, rowTitleY[r], 15);
      addText("ΔCTI (baseline)", zeroX, rowXNameY[r], 13);
      if (c === 0) addText("ΔCTI (learned)", 16, rowTop[r] + rowUnit[r], 13, false, Math.PI / 2);
    });

    chart.setOption({
      animation: false,
      backgroundColor: "#fff",
      grid: grids,
      xAxis: xAxes,
      yAxis: yAxes,
      series,
      graphic: graphics,
    });
    return () => chart.dispose();
  }, []);

  return (
    <div
      ref={ref}
      style={{ position: "absolute", left: 0, top: 0, width: 720, height: 739, background: "#fff" }}
    />
  );
}
